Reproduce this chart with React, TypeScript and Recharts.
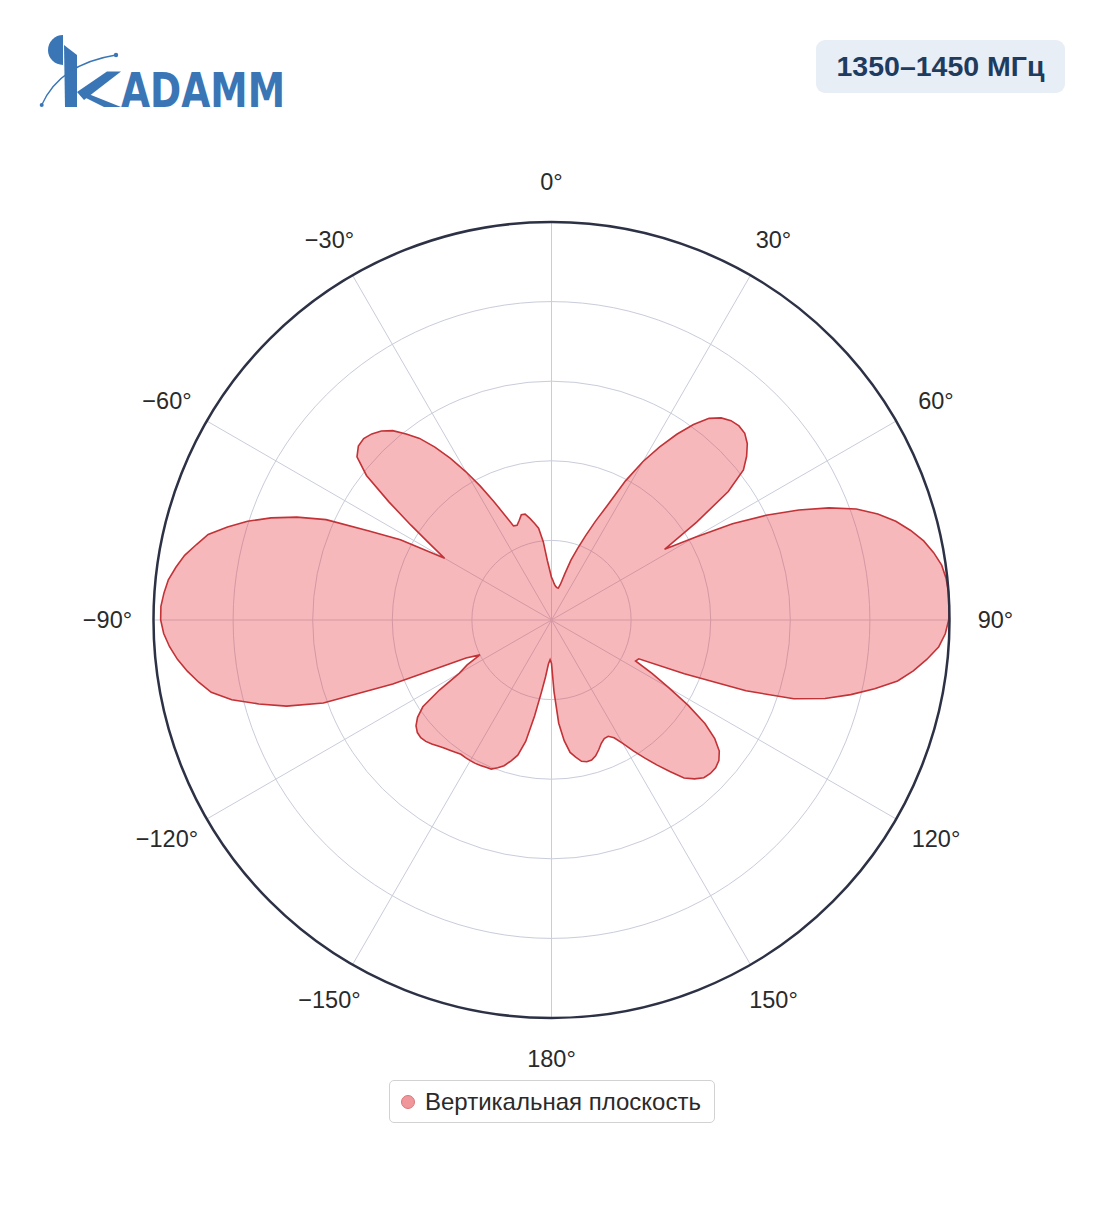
import React from 'react';
import { RadarChart, Radar, PolarGrid, PolarAngleAxis, PolarRadiusAxis, Legend } from 'recharts';

// Angles in degrees (clockwise from the top), 2° step
const angles: number[] = [
  0, 2, 4, 6, 8, 10, 12, 14, 16, 18, 20, 22, 24, 26, 28, 30, 32, 34, 36, 38,
  40, 42, 44, 46, 48, 50, 52, 54, 56, 58, 60, 62, 64, 66, 68, 70, 72, 74, 76, 78,
  80, 82, 84, 86, 88, 90, 92, 94, 96, 98, 100, 102, 104, 106, 108, 110, 112, 114, 116, 118,
  120, 122, 124, 126, 128, 130, 132, 134, 136, 138, 140, 142, 144, 146, 148, 150, 152, 154, 156, 158,
  160, 162, 164, 166, 168, 170, 172, 174, 176, 178, 180,
  -178, -176, -174, -172, -170, -168, -166, -164, -162, -160, -158, -156, -154, -152, -150, -148, -146, -144, -142, -140,
  -138, -136, -134, -132, -130, -128, -126, -124, -122, -120, -118, -116, -114, -112, -110, -108, -106, -104, -102, -100,
  -98, -96, -94, -92, -90, -88, -86, -84, -82, -80, -78, -76, -74, -72, -70, -68, -66, -64, -62, -60,
  -58, -56, -54, -52, -50, -48, -46, -44, -42, -40, -38, -36, -34, -32, -30, -28, -26, -24, -22, -20,
  -18, -16, -14, -12, -10, -8, -6, -4, -2,
];

// Normalised pattern, right half (0° … 180°)
const gainRight: number[] = [
  0.107, 0.100, 0.092, 0.087, 0.084, 0.082, 0.082, 0.092, 0.120, 0.158,
  0.190, 0.228, 0.272, 0.320, 0.396, 0.460, 0.513, 0.563, 0.607, 0.643,
  0.663, 0.674, 0.678, 0.675, 0.662, 0.640, 0.612, 0.549, 0.440, 0.335,
  0.415, 0.515, 0.600, 0.680, 0.752, 0.815, 0.862, 0.900, 0.930, 0.956,
  0.975, 0.990, 0.997, 1.000, 1.000, 0.998, 0.990, 0.975, 0.948, 0.918,
  0.883, 0.830, 0.775, 0.715, 0.640, 0.520, 0.360, 0.240, 0.235, 0.286,
  0.340, 0.405, 0.465, 0.507, 0.535, 0.549, 0.555, 0.555, 0.551, 0.537,
  0.518, 0.483, 0.450, 0.418, 0.388, 0.358, 0.335, 0.325, 0.326, 0.334,
  0.347, 0.359, 0.366, 0.367, 0.363, 0.350, 0.336, 0.305, 0.260, 0.180,
  0.109,
];

// Normalised pattern, left half (−178° … −2°)
const gainLeft: number[] = [
  0.100, 0.111, 0.144, 0.185, 0.245, 0.312, 0.350, 0.368, 0.385, 0.395,
  0.404, 0.405, 0.407, 0.408, 0.408, 0.408, 0.407, 0.411, 0.415, 0.420,
  0.426, 0.433, 0.439, 0.442, 0.440, 0.432, 0.416, 0.390, 0.332, 0.267,
  0.240, 0.200, 0.235, 0.430, 0.610, 0.700, 0.765, 0.828, 0.874, 0.900,
  0.924, 0.945, 0.962, 0.975, 0.982, 0.982, 0.976, 0.968, 0.953, 0.936,
  0.912, 0.889, 0.847, 0.803, 0.750, 0.690, 0.620, 0.510, 0.430, 0.310,
  0.360, 0.426, 0.505, 0.590, 0.638, 0.653, 0.656, 0.650, 0.639, 0.621,
  0.593, 0.564, 0.524, 0.479, 0.430, 0.381, 0.332, 0.289, 0.255, 0.253,
  0.263, 0.275, 0.274, 0.261, 0.247, 0.233, 0.198, 0.150, 0.125,
];

const gain: number[] = [...gainRight, ...gainLeft];

const data = angles.map((a, i) => ({ angle: a, gain: gain[i] }));

const gridAngles = [90, 60, 30, 0, -30, -60, -90, -120, -150, -180, -210, -240];
const ringFractions = [0.2, 0.4, 0.6, 0.8];

const seriesName = 'Вертикальная плоскость';
const bandLabel = '1350–1450 МГц';

const FONT = '"Liberation Sans", Arial, Helvetica, sans-serif';
const OUTER = 398;
const CX = 543.5;
const CY = 612;

const AngleTick = (props: any) => {
  const { payload } = props;
  const v = Number(payload?.value);
  if (v % 30 !== 0) return <g />;
  const label = v < 0 ? `\u2212${Math.abs(v)}°` : `${v}°`;
  let x = props.x;
  let y = props.y;
  if (payload && typeof payload.coordinate === 'number') {
    const rad = (payload.coordinate * Math.PI) / 180;
    x = CX + 444 * Math.cos(rad);
    y = CY - 438.5 * Math.sin(rad);
  }
  return (
    <text
      x={x}
      y={y}
      textAnchor="middle"
      dominantBaseline="central"
      fontFamily={FONT}
      fontSize={23.5}
      fill="#2a2a2a"
    >
      {label}
    </text>
  );
};

const LegendBox = () => (
  <div
    style={{
      boxSizing: 'border-box',
      width: 326,
      height: 43,
      border: '1px solid #d2d2d2',
      borderRadius: 5,
      background: '#fff',
      display: 'flex',
      alignItems: 'center',
      paddingLeft: 11,
      fontFamily: FONT,
      fontSize: 24,
      color: '#2a2a2a',
      whiteSpace: 'nowrap',
    }}
  >
    <span
      style={{
        display: 'inline-block',
        flex: 'none',
        width: 14,
        height: 14,
        borderRadius: '50%',
        background: '#f0979b',
        border: '1px solid #d9777b',
        boxSizing: 'border-box',
        marginRight: 10,
      }}
    />
    <span>{seriesName}</span>
  </div>
);

const Logo = () => (
  <svg
    width={340}
    height={90}
    viewBox="30 30 340 90"
    style={{ position: 'absolute', left: 22, top: 22 }}
  >
    <path d="M63,35 A15,15 0 0,0 63,65 Z" fill="#3a76b5" />
    <polygon points="64,45 77,55 77,107 65,107" fill="#3a76b5" />
    <polygon points="77,92 107,71.5 121,71.5 84,100" fill="#3a76b5" />
    <polygon points="80,95 86,93 121,107 104,107" fill="#3a76b5" />
    <path d="M41.7,105 Q60,64 116,55" fill="none" stroke="#3a76b5" strokeWidth={1.3} />
    <circle cx={41.7} cy={105} r={2} fill="#3a76b5" />
    <circle cx={116} cy={55} r={2.2} fill="#3a76b5" />
    <text
      x={121}
      y={107}
      fontFamily={'"DejaVu Sans", "Liberation Sans", sans-serif'}
      fontWeight={700}
      fontSize={48}
      fill="#3a76b5"
      textLength={164}
      lengthAdjust="spacingAndGlyphs"
    >
      ADAMM
    </text>
  </svg>
);

export default function App() {
  return (
    <div style={{ position: 'relative', width: 1088, height: 1195, background: '#fff' }}>
      <Logo />
      <div
        style={{
          position: 'absolute',
          left: 808,
          top: 32,
          width: 249,
          height: 53,
          borderRadius: 9,
          background: '#e8eef6',
          display: 'flex',
          alignItems: 'center',
          justifyContent: 'center',
          fontFamily: FONT,
          fontWeight: 700,
          fontSize: 28.5,
          color: '#1f3b5e',
          whiteSpace: 'nowrap',
        }}
      >
        {bandLabel}
      </div>
      <div style={{ position: 'absolute', left: 0, top: 0 }}>
        <RadarChart
          width={1088}
          height={1160}
          data={data}
          cx={CX}
          cy={CY}
          outerRadius={OUTER}
          innerRadius={0}
          startAngle={90}
          endAngle={-270}
          margin={{ top: 0, right: 0, bottom: 0, left: 0 }}
        >
          <PolarGrid
            gridType="circle"
            polarAngles={gridAngles}
            polarRadius={ringFractions.map((f) => f * OUTER)}
            stroke="#c9ccda"
            strokeWidth={1}
          />
          <PolarRadiusAxis domain={[0, 1]} tick={false} axisLine={false} tickCount={6} />
          <PolarAngleAxis
            dataKey="angle"
            type="category"
            tick={AngleTick}
            tickLine={false}
            tickSize={42}
            axisLineType="circle"
            axisLine={{ stroke: '#2c3145', strokeWidth: 2.5 }}
          />
          <Radar
            name={seriesName}
            dataKey="gain"
            stroke="#c23236"
            strokeWidth={1.6}
            fill="#e8454c"
            fillOpacity={0.38}
            dot={false}
            isAnimationActive={false}
          />
          <Legend
            content={<LegendBox />}
            wrapperStyle={{ position: 'absolute', left: 381, top: 1072, bottom: 'auto', width: 326, height: 43 }}
          />
        </RadarChart>
      </div>
    </div>
  );
}
